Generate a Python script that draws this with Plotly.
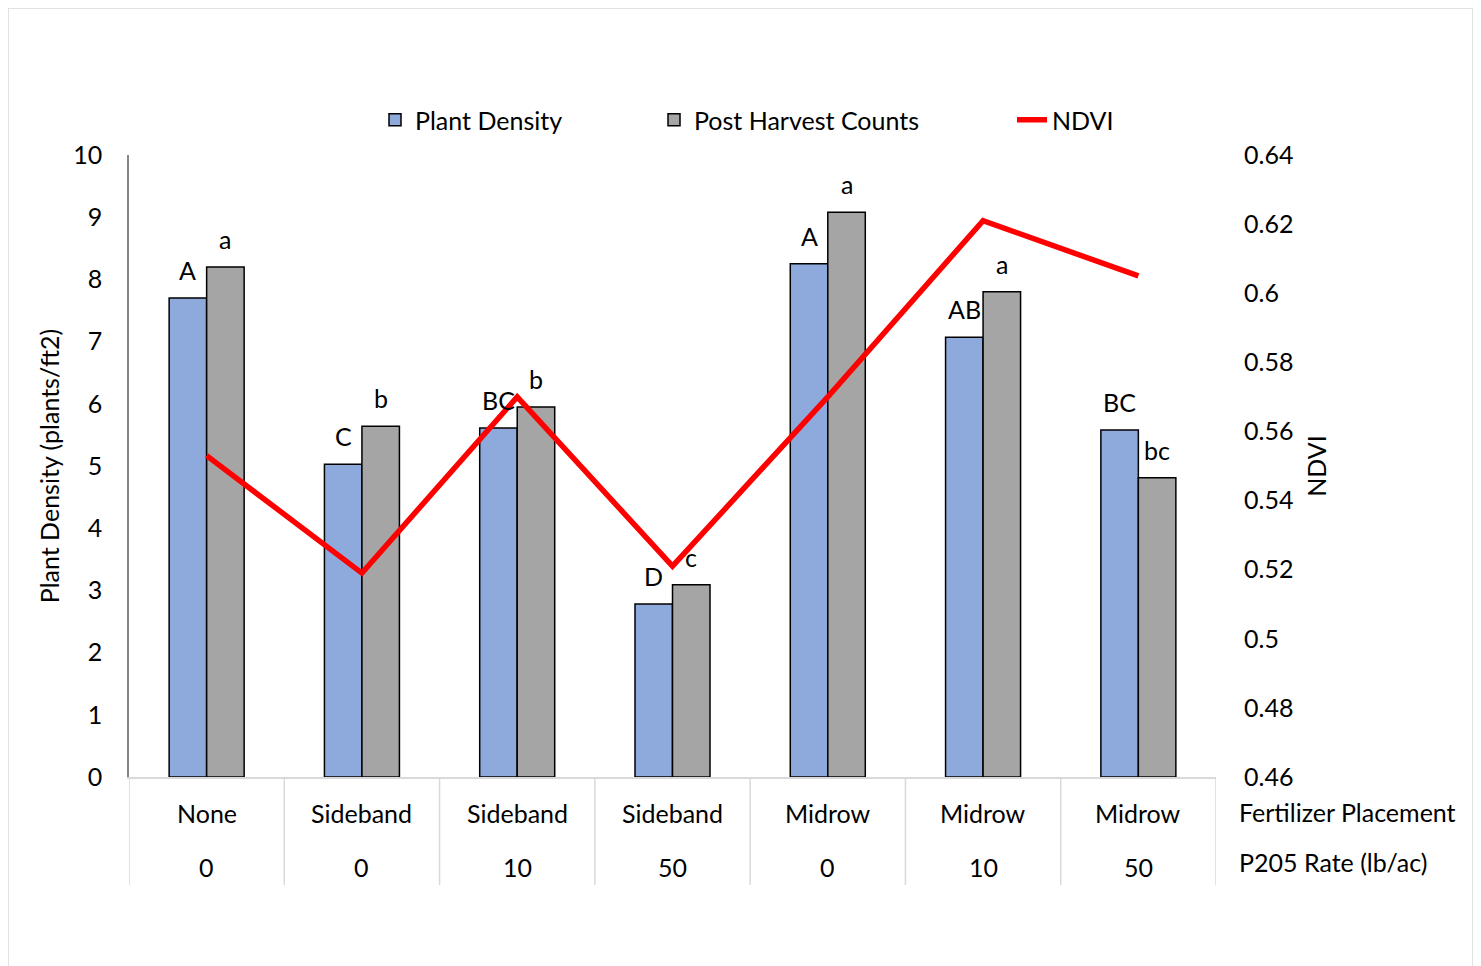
import plotly.graph_objects as go

placements = ["None", "Sideband", "Sideband", "Sideband", "Midrow", "Midrow", "Midrow"]
rates = ["0", "0", "10", "50", "0", "10", "50"]
plant_density = [7.70, 5.03, 5.61, 2.78, 8.25, 7.07, 5.58]
post_harvest = [8.20, 5.64, 5.95, 3.09, 9.08, 7.80, 4.81]
ndvi = [0.553, 0.519, 0.570, 0.521, 0.570, 0.621, 0.605]
pd_letters = ["A", "C", "BC", "D", "A", "AB", "BC"]
ph_letters = ["a", "b", "b", "c", "a", "a", "bc"]
y1_ticks = list(range(0, 11))
y2_ticks = [0.46, 0.48, 0.50, 0.52, 0.54, 0.56, 0.58, 0.60, 0.62, 0.64]
y2_ticktext = ["0.46", "0.48", "0.5", "0.52", "0.54", "0.56", "0.58", "0.6", "0.62", "0.64"]

# page offset of the figure (body margin)
OX, OY = 8, 8
W, H = 1466, 966
# plot area in page pixels
PX0, PX1, PY0, PY1 = 129, 1216, 155, 777
L = PX0 - OX
R = W - (PX1 - OX)
T = PY0 - OY
B = H - (PY1 - OY)
PW, PH = PX1 - PX0, PY1 - PY0
FONT = "Lato"
FS = 25
BARGAP = 0.517


def xp(px):
    return (px - PX0) / PW


def yp(py):
    return (PY1 - py) / PH


xs = list(range(len(placements)))

fig = go.Figure()
fig.add_trace(go.Bar(
    x=xs, y=plant_density, name="Plant Density", legend="legend",
    marker=dict(color="#8EA9DB", line=dict(color="#000000", width=1.5)),
))
fig.add_trace(go.Bar(
    x=xs, y=post_harvest, name="Post Harvest Counts", legend="legend2",
    marker=dict(color="#A5A5A5", line=dict(color="#000000", width=1.5)),
))
fig.add_trace(go.Scatter(
    x=xs, y=ndvi, name="NDVI", yaxis="y2", mode="lines", legend="legend3",
    line=dict(color="#FF0000", width=5.5),
))

off = (1 - BARGAP) / 4
tfont = dict(family=FONT, size=FS, color="#000")
annotations = []
for i in xs:
    annotations.append(dict(x=i - off, y=plant_density[i], text=pd_letters[i],
                            showarrow=False, yanchor="bottom", yshift=11, font=tfont))
    annotations.append(dict(x=i + off, y=post_harvest[i], text=ph_letters[i],
                            showarrow=False, yanchor="bottom", yshift=11, font=tfont))
    annotations.append(dict(x=i, xref="x", y=yp(813), yref="paper", text=placements[i],
                            showarrow=False, yanchor="middle", font=tfont))
    annotations.append(dict(x=i, xref="x", y=yp(867), yref="paper", text=rates[i],
                            showarrow=False, yanchor="middle", font=tfont))
annotations.append(dict(x=xp(1237), xref="paper", y=yp(812), yref="paper",
                        text="Fertilizer Placement", showarrow=False, xanchor="left",
                        yanchor="middle", font=tfont))
annotations.append(dict(x=xp(1237), xref="paper", y=yp(862), yref="paper",
                        text="P205 Rate (lb/ac)", showarrow=False, xanchor="left",
                        yanchor="middle", font=tfont))

shapes = []
for k in range(len(xs) + 1):
    shapes.append(dict(type="line", xref="x", yref="paper", x0=k - 0.5, x1=k - 0.5,
                       y0=0, y1=yp(885), line=dict(color="#D9D9D9", width=1.5)))
shapes.append(dict(type="rect", xref="paper", yref="paper",
                   x0=xp(OX), x1=xp(OX + W - 1), y0=yp(OY), y1=yp(OY + H + 20),
                   line=dict(color="#D9D9D9", width=1.5), layer="below"))


def leg(text_x):
    return dict(orientation="h", xref="container", yref="container",
                x=(text_x - 40 - OX) / W, xanchor="left",
                y=1 - (120 - OY) / H, yanchor="middle",
                font=tfont, bgcolor="rgba(0,0,0,0)")


fig.update_layout(
    width=W, height=H,
    margin=dict(l=L, r=R, t=T, b=B, autoexpand=False),
    paper_bgcolor="white", plot_bgcolor="white",
    font=tfont,
    barmode="group", bargap=BARGAP, bargroupgap=0,
    showlegend=True,
    legend=leg(415), legend2=leg(694), legend3=leg(1052),
    xaxis=dict(range=[-0.5, len(xs) - 0.5], showticklabels=False, showgrid=False,
               zeroline=False, showline=True, linecolor="#D9D9D9", linewidth=1.5,
               ticks=""),
    yaxis=dict(range=[0, 10], tickvals=y1_ticks, showgrid=False, zeroline=False,
               showline=True, linecolor="#868686", linewidth=1.5, ticks="",
               ticklabelstandoff=20,
               title=dict(text="Plant Density (plants/ft2)", standoff=6, font=tfont)),
    yaxis2=dict(range=[0.46, 0.64], tickvals=y2_ticks, ticktext=y2_ticktext,
                overlaying="y", side="right", showgrid=False, zeroline=False,
                showline=False, ticks="", ticklabelstandoff=27,
                title=dict(text="NDVI", standoff=16, font=tfont)),
    annotations=annotations,
    shapes=shapes,
)

fig.write_html("out.html")
